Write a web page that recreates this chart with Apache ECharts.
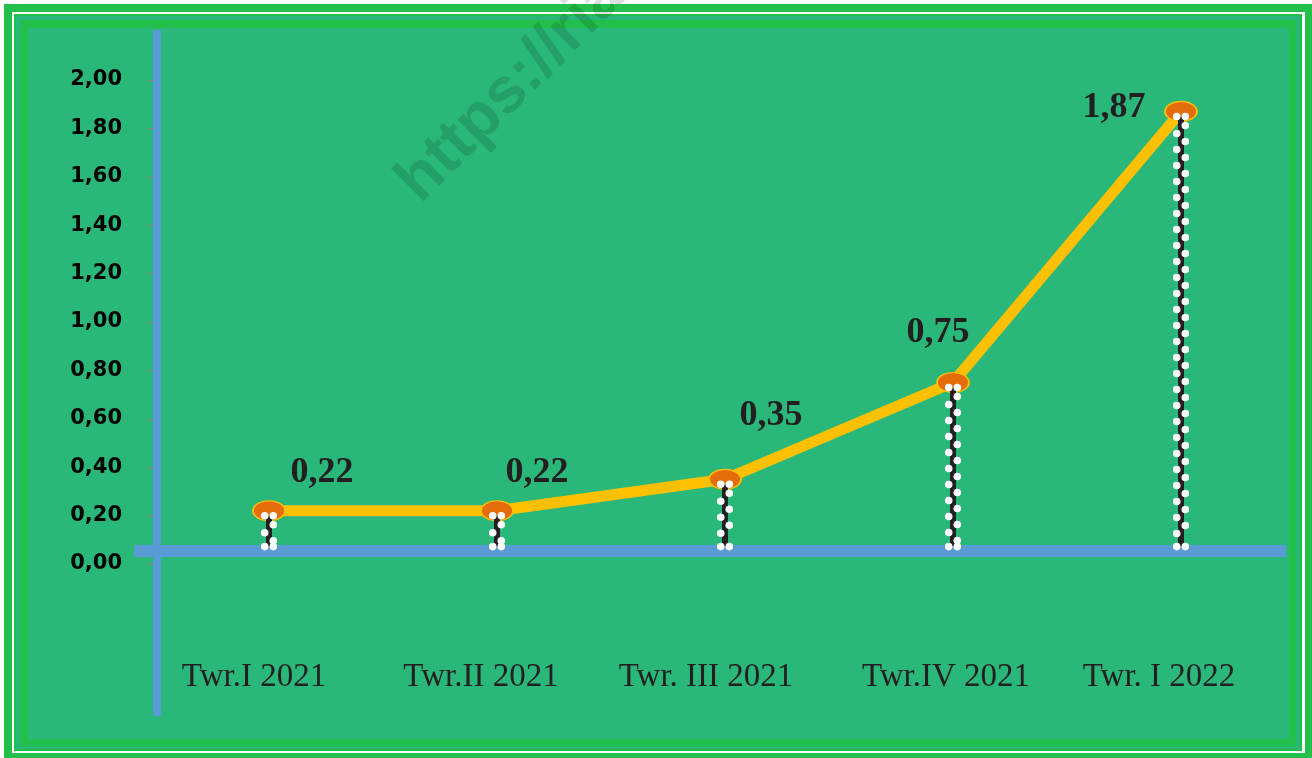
<!DOCTYPE html>
<html><head><meta charset="utf-8">
<style>html,body{margin:0;padding:0;background:#fff}#c{width:1312px;height:758px}</style>
<script src="https://cdn.jsdelivr.net/npm/echarts@6/dist/echarts.min.js"></script>
</head><body><div id="c"></div>
<script>
// ---- data ----
const categories = ['Twr.I 2021', 'Twr.II 2021', 'Twr. III 2021', 'Twr.IV 2021', 'Twr. I 2022'];
const values = [0.22, 0.22, 0.35, 0.75, 1.87];
const valueLabels = ['0,22', '0,22', '0,35', '0,75', '1,87'];
const yMin = 0, yMax = 2, yStep = 0.2;
const dropBase = 0.072;   // where the dotted drop lines end
const baseBand = 0.054;   // blue horizontal band
// label placement (style, not data)
const labelOffsets = [[53, -38], [40, -38], [46, -64], [-15, -50], [-67, -4]];
const catShift = [30, 32, 38, 14, 44];   // right padding -> shifts category label left by half
const catLift = [0, 0, 0, 4, 10];        // bottom padding -> lifts label

const chart = echarts.init(document.getElementById('c'), null, {renderer: 'canvas'});

function dot(x, y) {
  return {type: 'circle', shape: {cx: x, cy: y, r: 3.8}, style: {fill: '#ffffff'}};
}

const rich = {};
catShift.forEach((s, i) => {
  rich['c' + i] = {
    color: '#231f20',
    fontFamily: '"Liberation Serif", serif',
    fontSize: 33,
    padding: [0, s, catLift[i], 0]
  };
});

const option = {
  animation: false,
  backgroundColor: '#ffffff',
  grid: {left: 155, right: 17, top: 80, bottom: 194},
  xAxis: {
    type: 'category',
    data: categories,
    boundaryGap: true,
    axisLine: {show: false},
    axisTick: {show: false},
    axisLabel: {
      interval: 0,
      hideOverlap: false,
      margin: 97,
      color: '#231f20',
      fontFamily: '"Liberation Serif", serif',
      fontSize: 33,
      formatter: (v, i) => '{c' + i + '|' + v + '}',
      rich: rich
    }
  },
  yAxis: {
    type: 'value',
    min: yMin, max: yMax, interval: yStep,
    splitLine: {show: false},
    axisLine: {show: false},
    axisTick: {show: true, length: 8, lineStyle: {color: '#a07c72', width: 1}},
    axisLabel: {
      margin: 33,
      color: '#000000',
      fontFamily: '"DejaVu Sans", sans-serif',
      fontWeight: 'bold',
      fontSize: 21,
      formatter: v => v.toFixed(2).replace('.', ',')
    }
  },
  series: [
    {
      type: 'line',
      z: 3,
      data: values.map((v, i) => ({value: v, label: {offset: labelOffsets[i]}})),
      lineStyle: {color: '#FFC000', width: 11},
      symbol: 'path://M0 10A10 10 0 1 0 20 10A10 10 0 1 0 0 10Z',
      symbolSize: [32, 20],
      symbolKeepAspect: false,
      itemStyle: {color: '#E46C0A', borderColor: '#FFC000', borderWidth: 1.5},
      label: {
        show: true,
        position: 'inside',
        align: 'center',
        verticalAlign: 'middle',
        formatter: p => valueLabels[p.dataIndex],
        color: '#231f20',
        fontFamily: '"Liberation Serif", serif',
        fontWeight: 'bold',
        fontSize: 36
      }
    },
    {
      type: 'custom',
      z: 5,
      data: values.map((v, i) => [i, v]),
      renderItem: function (params, api) {
        const top = api.coord([api.value(0), api.value(1)]);
        const bot = api.coord([api.value(0), dropBase]);
        const x = top[0];
        const y0 = top[1] + 5, y1 = bot[1];
        const dx = 4.3;
        const children = [{
          type: 'line',
          shape: {x1: x, y1: y0, x2: x, y2: y1},
          style: {stroke: '#231f20', lineWidth: 6}
        }];
        children.push(dot(x - dx, y0), dot(x + dx, y0), dot(x - dx, y1), dot(x + dx, y1));
        const step = 8;
        let k = 1;
        for (let y = y0 + step + 1; y < y1 - step * 0.7; y += step, k++) {
          children.push(dot(k % 2 ? x + dx : x - dx, y));
        }
        return {type: 'group', children: children};
      }
    }
  ]
};
chart.setOption(option);

// decorations derived from the scale
const bandY = chart.convertToPixel({yAxisIndex: 0}, baseBand);
chart.setOption({
  graphic: [
    // frames
    {type: 'rect', z: -20, shape: {x: 4, y: 4, width: 1308, height: 754}, style: {fill: '#22C04B'}},
    {type: 'rect', z: -19, shape: {x: 12, y: 12, width: 1293, height: 741}, style: {fill: '#ffffff'}},
    {type: 'rect', z: -18, shape: {x: 14, y: 14, width: 1288, height: 737}, style: {fill: '#22C04B'}},
    {type: 'rect', z: -17, shape: {x: 16, y: 16, width: 1284, height: 733}, style: {fill: '#2AB77A'}},
    {type: 'rect', z: -16, shape: {x: 20, y: 20, width: 1276, height: 726}, style: {fill: '#22C04B'}},
    {type: 'rect', z: -15, shape: {x: 28, y: 28, width: 1261, height: 711}, style: {fill: '#2AB77A'}},
    // blue axes
    {type: 'rect', z: 1, shape: {x: 153, y: 30, width: 8, height: 686}, style: {fill: '#5B9BD5'}},
    {type: 'rect', z: 1, shape: {x: 134, y: bandY - 6, width: 1152, height: 12}, style: {fill: '#5B9BD5'}},
    // watermark
    {
      type: 'text', z: 100,
      x: 408, y: 192,
      rotation: 45 * Math.PI / 180,
      style: {
        text: 'https://ria',
        font: 'bold 64px "Liberation Sans", sans-serif',
        fill: 'rgba(0,0,0,0.13)',
        align: 'left',
        verticalAlign: 'middle'
      }
    }
  ]
});
</script>
</body></html>
